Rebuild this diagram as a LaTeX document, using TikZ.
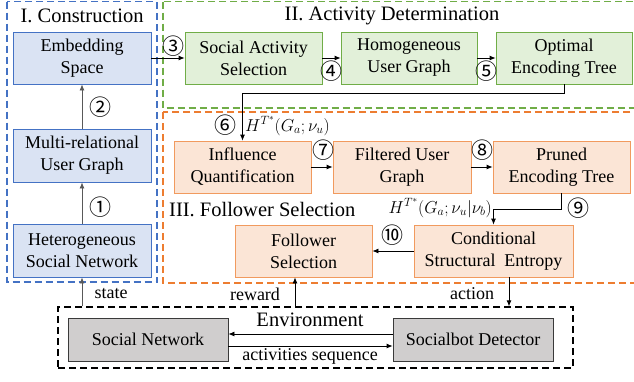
\documentclass[tikz,border=0pt]{standalone}
\usepackage{fontspec}
\setmainfont{Liberation Serif}
\newfontfamily\circfont{Noto Sans CJK SC}
\usetikzlibrary{arrows.meta}
\definecolor{bluefill}{HTML}{DAE3F3}
\definecolor{blueline}{HTML}{4472C4}
\definecolor{greenfill}{HTML}{E2F0D9}
\definecolor{greenline}{HTML}{70AD47}
\definecolor{orangefill}{HTML}{FBE5D6}
\definecolor{orangeline}{HTML}{ED7D31}
\definecolor{orangebox}{HTML}{F19A5E}
\definecolor{grayfill}{HTML}{D0CECE}
\definecolor{grayline}{HTML}{3A3A3A}
\definecolor{arrgray}{HTML}{595959}
\begin{document}
\begin{tikzpicture}[x=1pt,y=-1pt,
  bx/.style={draw, line width=0.8pt, minimum height=52pt, align=center, inner sep=0pt,
    font=\fontsize{18}{22}\selectfont},
  bluebox/.style={bx, fill=bluefill, draw=blueline, minimum width=138pt},
  greenbox/.style={bx, fill=greenfill, draw=greenline, minimum width=137pt},
  orbox/.style={bx, fill=orangefill, draw=orangebox, minimum width=137pt},
  graybox/.style={bx, fill=grayfill, draw=grayline, minimum width=160pt, minimum height=43pt},
  region/.style={line width=1.3pt, dash pattern=on 7pt off 4pt},
  arr/.style={line width=0.8pt, -{Latex[length=6pt,width=5pt]}},
  garr/.style={arr, draw=arrgray},
  num/.style={font=\circfont\fontsize{22}{22}\selectfont, inner sep=0pt},
  lbl/.style={font=\fontsize{18}{22}\selectfont, inner sep=0pt},
  head/.style={font=\fontsize{20.5}{24}\selectfont, inner sep=0pt}]
\clip (0,0) rectangle (634,381);
\fill[white] (0,0) rectangle (634,381);

% regions
\draw[region, draw=blueline] (7,1.5) rectangle (157,282);
\draw[region, draw=greenline] (163,1.5) rectangle (660,108);
\draw[region, draw=orangeline] (163,112) rectangle (660,283);

\node[head] (h1) at (82,16) {I. Construction};
\node[head] (h2) at (392,16) {II. Activity Determination};
\node[head, anchor=west] (h3) at (169,210) {III. Follower Selection};

% stage I
\node[bluebox] (emb) at (82,58) {Embedding\\Space};
\node[bluebox, minimum height=53pt] (mul) at (82,155.5) {Multi-relational\\User Graph};
\node[bluebox, minimum height=53pt] (het) at (82,250.5) {Heterogeneous\\Social Network};

% stage II
\node[greenbox] (sas) at (253.5,58) {Social Activity\\Selection};
\node[greenbox, minimum width=136pt] (hom) at (409,58) {Homogeneous\\User Graph};
\node[greenbox, minimum width=136pt] (opt) at (564,58) {Optimal\\Encoding Tree};

% stage III
\node[orbox] (inf) at (242.5,167) {Influence\\Quantification};
\node[orbox, minimum width=138pt] (fil) at (402,167) {Filtered User\\Graph};
\node[orbox] (pru) at (561.5,167) {Pruned\\Encoding Tree};
\node[orbox] (fol) at (303.5,251) {Follower\\Selection};
\node[orbox, minimum width=159pt] (con) at (493.5,251) {Conditional\\Structural\ \ Entropy};

% environment
\node[draw, region, minimum width=515pt, minimum height=61pt, inner sep=0pt] (env) at (315.5,337.5) {};
\node[head] (envt) at (310,320) {Environment};
\node[graybox] (sn) at (148,339.5) {Social Network};
\node[graybox] (sbd) at (473,339.5) {Socialbot Detector};

% connectors
\draw[garr] (het) -- (mul);
\draw[garr] (mul) -- (emb);
\draw[arr] (emb) -- (sas);
\draw[arr] (sas) -- (hom);
\draw[arr] (hom) -- (opt);
\draw[arr] (opt.south) -- ++(0,9) -| (inf.north);
\draw[arr] (inf) -- (fil);
\draw[arr] (fil) -- (pru);
\draw[arr] (pru.south) -- ++(0,16) -| (con.north);
\draw[arr] (con) -- (fol);

\draw[arr] ([yshift=5.5pt]sbd.west) -- ([yshift=5.5pt]sn.east);
\draw[arr] ([yshift=-6.5pt]sn.east) -- ([yshift=-6.5pt]sbd.west);

\coordinate (rw) at (295,0);
\coordinate (ac) at (509,0);
\draw[garr] (het.south |- env.north) -- (het.south);
\draw[arr] (rw |- env.north) -- (rw |- fol.south);
\draw[arr] (ac |- con.south) -- (ac |- env.north);

% numbers
\node[num] (n1) at (100,207) {①};
\node[num] (n2) at (100,107) {②};
\node[num] (n3) at (173,46) {③};
\node[num] (n4) at (331,71) {④};
\node[num] (n5) at (486,71) {⑤};
\node[num] (n6) at (225,125) {⑥};
\node[num] (n7) at (323,150) {⑦};
\node[num] (n8) at (482,150) {⑧};
\node[num] (n9) at (578,208) {⑨};
\node[num] (n10) at (392,235) {⑩};

% labels
\node[lbl, anchor=west] (m1) at (245,126) {$H^{T^*}(G_a;\nu_u)$};
\node[lbl, anchor=east] (m2) at (492,208) {$H^{T^*}(G_a;\nu_u|\nu_b)$};
\node[lbl] (ls) at (111,294) {state};
\node[lbl] (lr) at (255,294) {reward};
\node[lbl] (la) at (472,294) {action};
\node[lbl] (lq) at (310,356) {activities sequence};
\end{tikzpicture}
\end{document}
